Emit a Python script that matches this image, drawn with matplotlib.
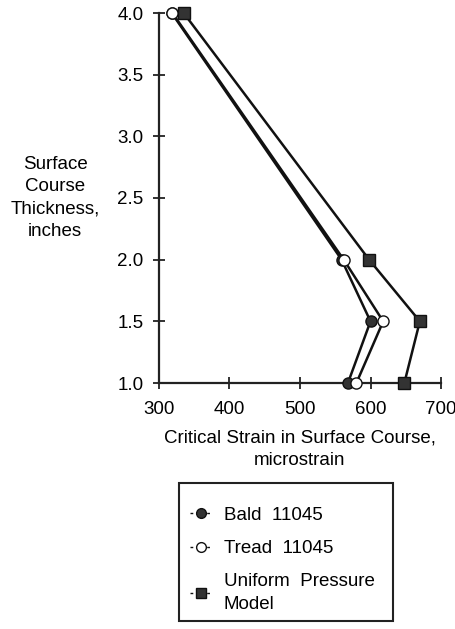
import matplotlib
matplotlib.use("Agg")
import matplotlib.pyplot as plt
from matplotlib.lines import Line2D
from matplotlib.patches import Rectangle

plt.rcParams['font.family'] = ['Liberation Sans', 'DejaVu Sans']

thickness = [4.0, 2.0, 1.5, 1.0]
bald = [318, 559, 600, 568]
tread = [319, 562, 618, 580]
uniform = [335, 598, 670, 648]

xticks = [300, 400, 500, 600, 700]
yticks = [1.0, 1.5, 2.0, 2.5, 3.0, 3.5, 4.0]

fig = plt.figure(figsize=(4.56, 6.29), dpi=100)
ax = fig.add_axes([159/456, 1-383/629, (441-159)/456, (383-13)/629])

ax.plot(bald, thickness, '-', color='#111111', lw=1.8, marker='o', ms=8,
        mfc='#333333', mec='#111111', clip_on=False, zorder=3)
ax.plot(tread, thickness, '-', color='#111111', lw=1.8, marker='o', ms=8,
        mfc='white', mec='#111111', clip_on=False, zorder=4)
ax.plot(uniform, thickness, '-', color='#111111', lw=1.8, marker='s', ms=8,
        mfc='#333333', mec='#111111', clip_on=False, zorder=3)

ax.set_xlim(300, 700)
ax.set_ylim(1.0, 4.0)
ax.set_xticks(xticks)
ax.set_yticks(yticks)
ax.set_xticklabels([str(v) for v in xticks], fontsize=13.5)
ax.set_yticklabels([f"{v:.1f}" for v in yticks], fontsize=13.5)
ax.tick_params(direction='inout', length=8, width=1.3, color='#222222')
ax.tick_params(axis='x', pad=9)
ax.tick_params(axis='y', pad=7)
for s in ['top', 'right']:
    ax.spines[s].set_visible(False)
for s in ['left', 'bottom']:
    ax.spines[s].set_linewidth(1.6)
    ax.spines[s].set_color('#222222')

ax.set_xlabel("Critical Strain in Surface Course,\nmicrostrain", fontsize=13.5,
              linespacing=1.45, labelpad=8)
fig.text(55/456, 1-198/629, "Surface\nCourse\nThickness,\ninches", ha='center',
         va='center', fontsize=13.5, linespacing=1.4)

# legend box
fig.patches.append(Rectangle((179/456, 1-621/629), (393-179)/456, (621-483)/629,
                             transform=fig.transFigure, fill=False,
                             edgecolor='#222222', lw=1.5))
handles = [
    Line2D([], [], ls=(0, (2, 2)), color='#111111', lw=1, marker='o', ms=7,
           mfc='#333333', mec='#111111'),
    Line2D([], [], ls=(0, (2, 2)), color='#111111', lw=1, marker='o', ms=7,
           mfc='white', mec='#111111'),
    Line2D([], [], ls=(0, (2, 2)), color='#111111', lw=1, marker='s', ms=7,
           mfc='#333333', mec='#111111'),
]
labels = ["Bald  11045", "Tread  11045", "Uniform  Pressure\nModel"]
leg = fig.legend(handles, labels, loc='upper left',
                 bbox_to_anchor=(173/456, 1-490/629), frameon=False, fontsize=13.5,
                 handlelength=1.2, handletextpad=0.6, labelspacing=0.85)
for t in leg.get_texts():
    t.set_linespacing(1.45)

fig.savefig("out.png", dpi=100)
